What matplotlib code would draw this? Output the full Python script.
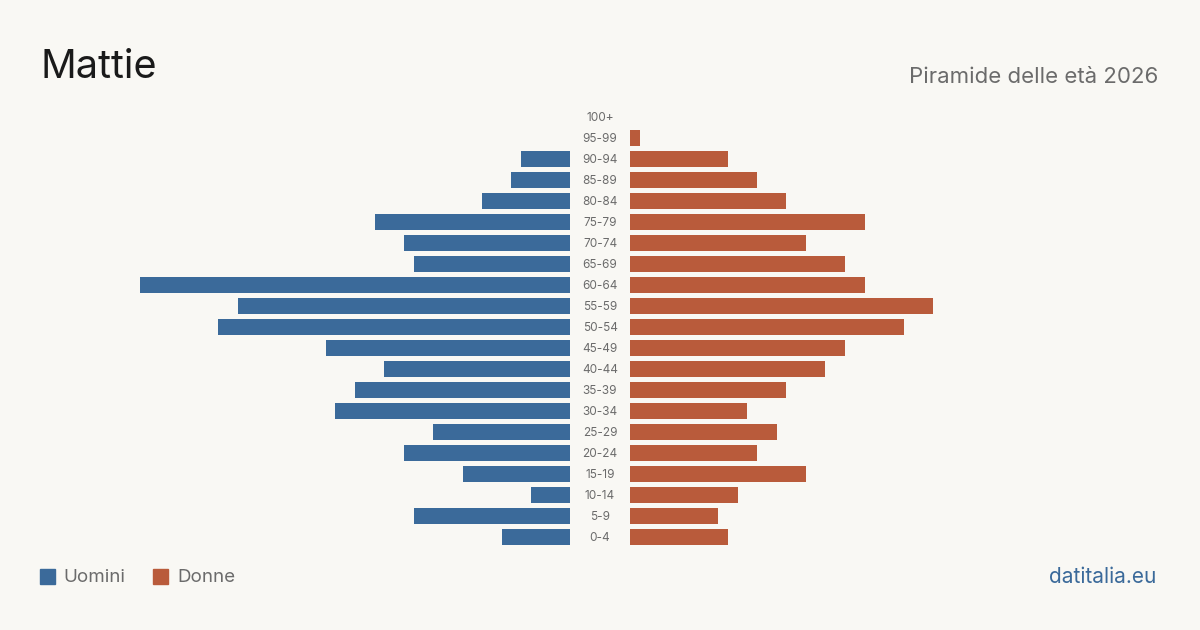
import matplotlib.pyplot as plt

age_groups = ["0-4", "5-9", "10-14", "15-19", "20-24", "25-29", "30-34", "35-39",
              "40-44", "45-49", "50-54", "55-59", "60-64", "65-69", "70-74",
              "75-79", "80-84", "85-89", "90-94", "95-99", "100+"]
uomini = [7, 16, 4, 11, 17, 14, 24, 22, 19, 25, 36, 34, 44, 16, 17, 20, 9, 6, 5, 0, 0]
donne = [10, 9, 11, 18, 13, 15, 12, 16, 20, 22, 28, 31, 24, 22, 18, 24, 16, 13, 10, 1, 0]

BG = "#f9f8f4"
BLUE = "#3b6a9a"
RED = "#b95b3b"
W, H = 1200, 630

plt.rcParams["font.family"] = ["Inter", "DejaVu Sans"]
fig = plt.figure(figsize=(W / 100, H / 100), dpi=100, facecolor=BG)

top = 1 - 106.5 / H
bottom = 1 - 547.5 / H
xmax = 44
ax_l = fig.add_axes([140 / W, bottom, 430 / W, top - bottom])
ax_r = fig.add_axes([630 / W, bottom, 430 / W, top - bottom])

ypos = range(len(age_groups))
ax_l.barh(ypos, uomini, height=0.8, color=BLUE)
ax_r.barh(ypos, donne, height=0.8, color=RED)
ax_l.set_xlim(xmax, 0)
ax_r.set_xlim(0, xmax)
for ax in (ax_l, ax_r):
    ax.set_ylim(-0.5, len(age_groups) - 0.5)
    ax.axis("off")

for i, lab in enumerate(age_groups):
    y = 1 - (538 - i * 21) / H
    fig.text(600 / W, y, lab, ha="center", va="center", fontsize=8.5, color="#6b6b6b")

fig.text(41 / W, 1 - 67 / H, "Mattie", fontsize=28.5, color="#1a1a1a", va="center")
fig.text(1158 / W, 1 - 77 / H, "Piramide delle età 2026", fontsize=16, color="#6b6b6b",
         va="center", ha="right")

fig.patches.append(plt.Rectangle((40 / W, 1 - 584 / H), 15 / W, 15 / H,
                                 transform=fig.transFigure, color=BLUE))
fig.text(63 / W, 1 - 577 / H, "Uomini", fontsize=13.5, color="#6b6b6b", va="center")
fig.patches.append(plt.Rectangle((153 / W, 1 - 584 / H), 15 / W, 15 / H,
                                 transform=fig.transFigure, color=RED))
fig.text(177 / W, 1 - 577 / H, "Donne", fontsize=13.5, color="#6b6b6b", va="center")

fig.text(1156 / W, 1 - 577 / H, "datitalia.eu", fontsize=15, color=BLUE,
         va="center", ha="right")

fig.savefig("out.png", dpi=100, facecolor=BG)
